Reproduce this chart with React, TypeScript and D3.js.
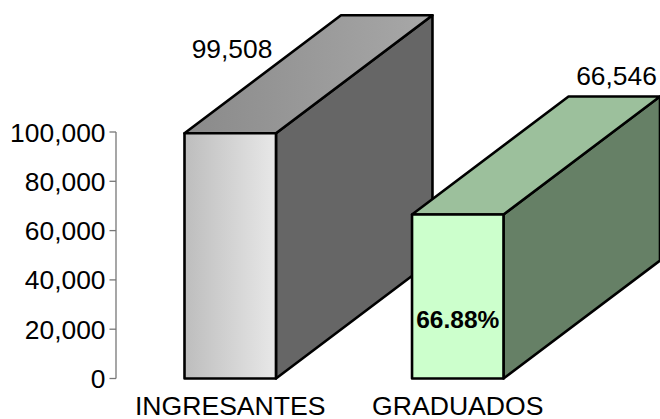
import React from "react";
import * as d3 from "d3";

const categories = ["INGRESANTES", "GRADUADOS"];
const values = [99508, 66546];
const valueLabels = ["99,508", "66,546"];
const axisTicks = [0, 20000, 40000, 60000, 80000, 100000];
const percentLabel = "66.88%";

const W = 660, H = 419;
const y = d3.scaleLinear().domain([0, 100000]).range([378.5, 132]);
const x = d3.scaleBand().domain(categories).range([184.5, 503.5]).paddingInner(0.598).paddingOuter(0);
const depthX = 156.5, depthY = -118;
const font = "'Liberation Sans', Arial, sans-serif";
const fmt = d3.format(",");

const faces = [
  { front: "url(#frontGrey)", top: "url(#topGrey)", side: "#666666" },
  { front: "#ccffcc", top: "#9cc09c", side: "#668066" },
];
const labelPos = [
  { dx: 47.5, dy: -75.5 },
  { dx: 204.5, dy: -129 },
];

function poly(pts: [number, number][]) {
  return d3.line()(pts)! + "Z";
}

export default function App() {
  const bw = x.bandwidth();
  return (
    <svg width={W} height={H} style={{ position: "absolute", left: 0, top: 0, background: "#fff" }}>
      <defs>
        <linearGradient id="frontGrey">
          <stop offset="0" stopColor="#bdbdbd" />
          <stop offset="1" stopColor="#e8e8e8" />
        </linearGradient>
        <linearGradient id="topGrey">
          <stop offset="0" stopColor="#8a8a8a" />
          <stop offset="1" stopColor="#a8a8a8" />
        </linearGradient>
      </defs>
      <line x1={116} x2={116} y1={y(100000)} y2={y(0)} stroke="#777" strokeWidth={1.3} />
      {axisTicks.map((t) => (
        <g key={t}>
          <line x1={109.5} x2={116} y1={y(t)} y2={y(t)} stroke="#777" strokeWidth={1.3} />
          <text x={105.5} y={y(t)} dy="0.36em" textAnchor="end" fontFamily={font} fontSize={26.4} fill="#000">
            {fmt(t)}
          </text>
        </g>
      ))}
      {categories.map((c, i) => {
        const x0 = x(c)!, x1 = x0 + bw;
        const yt = y(values[i]), yb = y(0);
        const f = faces[i];
        const common = { stroke: "#000", strokeWidth: 2.6, strokeLinejoin: "round" as const };
        return (
          <g key={c}>
            <path d={poly([[x1, yb], [x1 + depthX, yb + depthY], [x1 + depthX, yt + depthY], [x1, yt]])} fill={f.side} {...common} />
            <path d={poly([[x0, yt], [x0 + depthX, yt + depthY], [x1 + depthX, yt + depthY], [x1, yt]])} fill={f.top} {...common} />
            <rect x={x0} y={yt} width={bw} height={yb - yt} fill={f.front} {...common} />
            <text x={x0 + labelPos[i].dx} y={yt + labelPos[i].dy} textAnchor="middle" fontFamily={font} fontSize={26.4} fill="#000">
              {valueLabels[i]}
            </text>
            <text x={x0 + bw / 2} y={415} textAnchor="middle" fontFamily={font} fontSize={26.6} fill="#000">
              {c}
            </text>
          </g>
        );
      })}
      <text x={x(categories[1])! + bw / 2} y={328} textAnchor="middle" fontFamily={font} fontSize={24.5} fontWeight="bold" fill="#000">
        {percentLabel}
      </text>
    </svg>
  );
}
